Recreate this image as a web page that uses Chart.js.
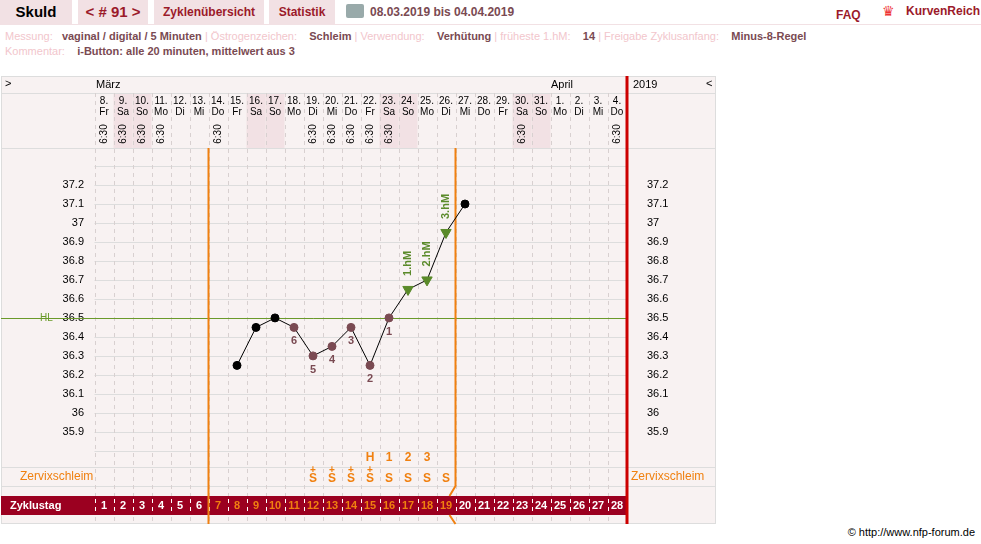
<!DOCTYPE html>
<html><head><meta charset="utf-8">
<script src="https://cdn.jsdelivr.net/npm/chart.js@4"></script>
<style>
body{margin:0;width:981px;height:544px;background:#fff;font-family:"Liberation Sans",Arial,sans-serif;position:relative;overflow:hidden}
.a{position:absolute;white-space:nowrap}
.tab{position:absolute;top:0;height:24px;background:#f2e1e4;color:#9b1a2a;font-weight:bold;font-size:12px;line-height:24px;text-align:center}
.lbl{color:#f2c6cc}.val{color:#7a4a52;font-weight:bold}
canvas{position:absolute;left:0;top:0}
</style></head><body>
<div class="tab" style="left:0;width:72px;color:#000;font-size:15px">Skuld</div>
<div class="tab" style="left:78px;width:70px;font-size:15px">&lt; # 91 &gt;</div>
<div class="tab" style="left:154px;width:110px">Zyklenübersicht</div>
<div class="tab" style="left:269px;width:66px">Statistik</div>
<div class="a" style="left:346px;top:4px;width:18px;height:14px;background:#9aa;border-radius:2px"></div>
<div class="a" style="left:370px;top:5px;font-size:12px;font-weight:bold;color:#7a4a52">08.03.2019 bis 04.04.2019</div>
<div class="a" style="left:836px;top:8px;font-size:12px;font-weight:bold;color:#9b1a2a">FAQ</div>
<div class="a" style="left:906px;top:4px;font-size:12px;font-weight:bold;color:#9b1a2a">KurvenReich</div>
<div class="a" style="left:882px;top:3px;font-size:14px;color:#e33">♛</div>
<div class="a" style="left:0;top:24px;width:981px;height:1px;background:#f2e1e4"></div>
<div class="a" style="left:5px;top:30px;font-size:11px"><span class="lbl">Messung:</span>&nbsp;&nbsp; <span class="val">vaginal / digital / 5 Minuten</span> <span class="lbl">| Östrogenzeichen:</span>&nbsp;&nbsp;&nbsp; <span class="val">Schleim</span> <span class="lbl">| Verwendung:</span>&nbsp;&nbsp;&nbsp; <span class="val">Verhütung</span> <span class="lbl">| früheste 1.hM:</span>&nbsp;&nbsp;&nbsp; <span class="val">14</span> <span class="lbl">| Freigabe Zyklusanfang:</span>&nbsp;&nbsp;&nbsp; <span class="val">Minus-8-Regel</span></div>
<div class="a" style="left:5px;top:45px;font-size:11px"><span class="lbl">Kommentar:</span>&nbsp;&nbsp;&nbsp; <span class="val">i-Button: alle 20 minuten, mittelwert aus 3</span></div>
<div class="a" style="right:6px;top:526px;font-size:11px;color:#000">© http://www.nfp-forum.de</div>
<canvas id="c" width="981" height="544"></canvas>
<script>
const dayNums=[8,9,10,11,12,13,14,15,16,17,18,19,20,21,22,23,24,25,26,27,28,29,30,31,1,2,3,4];
const weekdays=["Fr","Sa","So","Mo","Di","Mi","Do","Fr","Sa","So","Mo","Di","Mi","Do","Fr","Sa","So","Mo","Di","Mi","Do","Fr","Sa","So","Mo","Di","Mi","Do"];
const timeDays=[1,2,3,4,7,12,13,14,15,16,23,28];
const cycleDays=[8,9,10,11,12,13,14,15,16,17,18,19,20];
const temps=[36.25,36.45,36.5,36.45,36.3,36.35,36.45,36.25,36.5,36.65,36.7,36.95,37.1];
const lowLabels={11:"6",12:"5",13:"4",14:"3",15:"2",16:"1"};
const hmLabels={17:"1.hM",18:"2.hM",19:"3.hM"};
const mucusPlus=[12,13,14,15];
const mucusS=[12,13,14,15,16,17,18,19];
const peakLabels={15:"H",16:"1",17:"2",18:"3"};
const yTicks=[35.9,36,36.1,36.2,36.3,36.4,36.5,36.6,36.7,36.8,36.9,37,37.1,37.2];
const coverLine=36.5;

const ptColor=cycleDays.map(d=>lowLabels[d]?"#7a4a52":hmLabels[d]?"#5a8a2a":"#000");
const ptStyle=cycleDays.map(d=>hmLabels[d]?"triangle":"circle");
const ptRad=cycleDays.map(d=>hmLabels[d]?6:4);

const F='"Liberation Sans",Arial,sans-serif';
const deco={id:'deco',
beforeDraw(ch){
 const c=ch.ctx,x=ch.scales.x,y=ch.scales.y;
 const L=1,R=716,T=76,B=524,X0=x.getPixelForValue(0.5),XR=x.getPixelForValue(28.5);
 c.save();
 c.fillStyle="#f8f2f2";c.fillRect(L,T,R-L,B-T);
 c.strokeStyle="#ddd";c.lineWidth=1;c.strokeRect(L+.5,T+.5,R-L-1,B-T-1);
 // weekend shading in header
 c.fillStyle="#f2e1e4";
 weekdays.forEach((w,i)=>{if(w==="Sa"||w==="So"){c.fillRect(x.getPixelForValue(i+0.5),93,19,55);}});
 // horizontal row lines
 c.strokeStyle="#ddd";
 [93,148,467,486].forEach(v=>{c.beginPath();c.moveTo(L,v+.5);c.lineTo(R,v+.5);c.stroke();});
 // temp grid
 for(let t=35.8;t<=37.35;t+=0.1){const py=Math.round(y.getPixelForValue(t))+.5;c.beginPath();c.moveTo(X0,py);c.lineTo(XR,py);c.stroke();}
 // dashed verticals
 c.setLineDash([4,4]);c.strokeStyle="#d8d0d0";
 for(let i=0;i<=28;i++){const px=Math.round(x.getPixelForValue(i+0.5))+.5;c.beginPath();c.moveTo(px,93);c.lineTo(px,524);c.stroke();}
 c.setLineDash([]);
 // header text
 c.fillStyle="#000";c.font="11px "+F;c.textBaseline="middle";
 c.textAlign="left";c.fillText(">",5,84);c.fillText("März",96,85);c.fillText("April",551,85);c.fillText("2019",633,85);c.fillText("<",706,84);
 c.textAlign="center";
 dayNums.forEach((d,i)=>{const px=x.getPixelForValue(i+1);c.font="10px "+F;c.fillText(d+".",px,101);c.fillText(weekdays[i],px,112);
  if(timeDays.includes(i+1)){c.save();c.translate(px,134);c.rotate(-Math.PI/2);c.fillText("6:30",0,0);c.restore();}});
 // y labels
 c.font="11px "+F;
 yTicks.forEach(t=>{const py=y.getPixelForValue(t);c.textAlign="right";c.fillText(String(t),84,py);c.textAlign="left";c.fillText(String(t),647,py);});
 // HL line
 const hy=Math.round(y.getPixelForValue(coverLine))+.5;
 c.strokeStyle="#6a9a2a";c.beginPath();c.moveTo(L,hy);c.lineTo(XR,hy);c.stroke();
 c.fillStyle="#6a9a2a";c.font="10px "+F;c.textAlign="left";c.fillText("HL",40,hy);
 // zervix
 c.fillStyle="#f08010";c.font="12px "+F;c.textAlign="left";c.fillText("Zervixschleim",20,477);c.fillText("Zervixschleim",631,477);
 c.textAlign="center";c.font="bold 12px "+F;
 mucusS.forEach(d=>{const px=x.getPixelForValue(d);c.fillText("S",px,479);if(mucusPlus.includes(d)){c.font="bold 10px "+F;c.fillText("+",px,470);c.font="bold 12px "+F;}});
 Object.entries(peakLabels).forEach(([d,t])=>c.fillText(t,x.getPixelForValue(+d),458));
 // Zyklustag band
 c.fillStyle="#9b0020";c.fillRect(L,496,626.5-L,19);
 c.fillStyle="#fff";c.font="bold 11px "+F;c.textAlign="left";c.fillText("Zyklustag",10,506);
 c.textAlign="center";
 for(let d=1;d<=28;d++){const px=x.getPixelForValue(d);c.fillStyle=(d>=7&&d<=19)?"#f08010":"#fff";c.fillText(String(d),px,506);
  c.fillStyle="#fff";const ex=Math.round(x.getPixelForValue(d-0.5));if(d>1||true){c.fillRect(ex,499,1,4);c.fillRect(ex,507,1,4);}}
 // orange lines
 c.strokeStyle="#f08010";c.lineWidth=2;
 const o1=x.getPixelForValue(6.5),o2=x.getPixelForValue(19.5);
 c.beginPath();c.moveTo(o1,148);c.lineTo(o1,524);c.stroke();
 c.beginPath();c.moveTo(o2,148);c.lineTo(o2,486);c.lineTo(o2-6,496);c.moveTo(o2-6,515);c.lineTo(o2,524);c.stroke();
 // red line
 c.strokeStyle="#cc0000";c.lineWidth=3;c.beginPath();c.moveTo(627,T);c.lineTo(627,B);c.stroke();
 c.restore();
},
afterDatasetsDraw(ch){
 const c=ch.ctx,x=ch.scales.x,y=ch.scales.y;c.save();c.textAlign="center";c.textBaseline="middle";
 cycleDays.forEach((d,i)=>{const px=x.getPixelForValue(d),py=y.getPixelForValue(temps[i]);
  if(lowLabels[d]){c.fillStyle="#7a4a52";c.font="bold 11px "+F;c.fillText(lowLabels[d],px,py+14);}
  if(hmLabels[d]){c.fillStyle="#5a8a2a";c.font="bold 11px "+F;c.save();c.translate(px,py-26);c.rotate(-Math.PI/2);c.fillText(hmLabels[d],0,0);c.restore();}});
 c.restore();}
};
new Chart(document.getElementById('c'),{type:'line',
 data:{datasets:[{data:cycleDays.map((d,i)=>({x:d,y:temps[i]})),borderColor:"#000",borderWidth:1,pointBackgroundColor:ptColor,pointBorderColor:ptColor,pointStyle:ptStyle,pointRadius:ptRad,pointRotation:cycleDays.map(d=>hmLabels[d]?180:0),tension:0}]},
 options:{responsive:false,animation:false,events:[],layout:{padding:{left:94.5,right:354.5,top:148,bottom:78}},
  plugins:{legend:{display:false},tooltip:{enabled:false}},
  scales:{x:{type:'linear',min:0.5,max:28.5,display:false},y:{min:35.72,max:37.395,display:false}}},
 plugins:[deco]});
</script></body></html>
